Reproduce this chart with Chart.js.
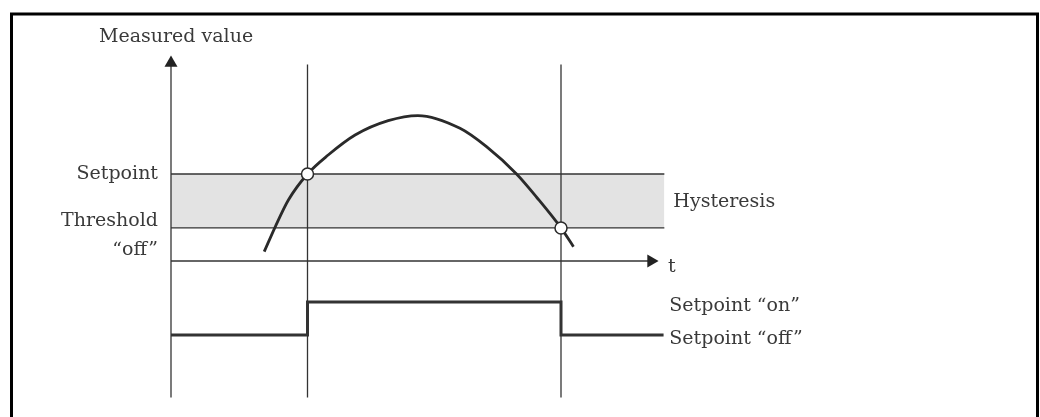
<!DOCTYPE html>
<html>
<head>
<meta charset="utf-8">
<script src="https://cdn.jsdelivr.net/npm/chart.js@4.4.1/dist/chart.umd.min.js"></script>
<style>
  body { margin: 0; background: #fff; }
  #wrap { position: relative; width: 1040px; height: 417px; }
</style>
</head>
<body>
<div id="wrap"><canvas id="myChart"></canvas></div>
<script>
// switching points on the time axis
const tOn = 3.5;
const tOff = 10;
const tEnd = 12.65;

// measured value levels
const setpoint = 10;
const threshold = 3.8;

const curveT = [2.39, 2.67, 3.01, 3.5, 4.03, 4.72, 5.57, 6.33, 7.41, 8.09, 8.86, 9.38, 10.0, 10.32];
const curveV = [1.07, 3.9, 7.01, 10.0, 12.18, 14.48, 16.13, 16.72, 15.25, 13.14, 10.0, 7.3, 3.8, 1.64];

// relay output levels (drawn below the time axis)
const outOff = -8.5;
const outOn = -4.7;

// axis extents
const yTop = 22.76;
const gridTop = 22.6;
const gridBottom = -15.7;
const tArrow = 12.31;

const ink = "#333";
const font = "19px 'DejaVu Serif'";

const pts = (xs, ys) => xs.map((x, i) => ({ x: x, y: ys[i] }));
const hline = (v, x0, x1) => [{ x: x0, y: v }, { x: x1, y: v }];
const vline = (t, y0, y1) => [{ x: t, y: y0 }, { x: t, y: y1 }];

const thin = { borderColor: ink, borderWidth: 1.3, pointRadius: 0, fill: false, order: 5 };

// frame and text
const labels = {
  id: "labels",
  beforeDraw(chart) {
    const c = chart.ctx;
    c.save();
    c.strokeStyle = "#000";
    c.lineWidth = 3;
    c.strokeRect(11.5, 14, 1026, 420);
    c.restore();
  },
  afterDatasetsDraw(chart) {
    const c = chart.ctx;
    const x = chart.scales.x, y = chart.scales.y;
    const left = x.getPixelForValue(0) - 13;
    const right = x.getPixelForValue(tEnd) + 9;
    c.save();
    c.font = font;
    c.fillStyle = "#3a3a3a";
    c.textBaseline = "alphabetic";
    c.textAlign = "left";
    c.fillText("Measured value", 99, 42);
    c.textAlign = "right";
    c.fillText("Setpoint", left, y.getPixelForValue(setpoint) + 5);
    c.fillText("Threshold", left, y.getPixelForValue(threshold) - 2);
    c.fillText("\u201coff\u201d", left, y.getPixelForValue(threshold) + 27);
    c.textAlign = "left";
    const mid = (y.getPixelForValue(setpoint) + y.getPixelForValue(threshold)) / 2;
    c.fillText("Hysteresis", right, mid + 6);
    c.fillText("t", x.getPixelForValue(tArrow) + 17, y.getPixelForValue(0) + 11);
    c.fillText("Setpoint \u201con\u201d", right - 4, y.getPixelForValue(outOn) + 9);
    c.fillText("Setpoint \u201coff\u201d", right - 4, y.getPixelForValue(outOff) + 9);
    c.restore();
  },
};

new Chart(document.querySelector("#myChart").getContext("2d"), {
  type: "line",
  data: {
    datasets: [
      { ...thin, data: hline(setpoint, 0, tEnd), fill: "+1", backgroundColor: "#e3e3e3", order: 10 },
      { ...thin, data: hline(threshold, 0, tEnd) },
      { ...thin, data: hline(0, 0, tArrow) },
      { ...thin, data: vline(0, gridBottom, yTop) },
      { ...thin, data: vline(tOn, gridBottom, gridTop) },
      { ...thin, data: vline(tOff, gridBottom, gridTop) },
      {
        data: pts(curveT, curveV),
        borderColor: "#2a2a2a",
        borderWidth: 2.8,
        pointRadius: 0,
        cubicInterpolationMode: "monotone",
        fill: false,
        order: 2,
      },
      {
        data: [{ x: 0, y: outOff }, { x: tOn, y: outOn }, { x: tOff, y: outOff }, { x: tEnd - 0.02, y: outOff }],
        stepped: true,
        borderColor: ink,
        borderWidth: 3,
        pointRadius: 0,
        fill: false,
        order: 2,
      },
      {
        data: [{ x: tOn, y: setpoint }, { x: tOff, y: threshold }],
        showLine: false,
        pointRadius: 6,
        pointBackgroundColor: "#fff",
        pointBorderColor: "#2a2a2a",
        pointBorderWidth: 1.5,
        order: 0,
      },
      {
        data: [{ x: 0, y: yTop }, { x: tArrow, y: 0 }],
        showLine: false,
        pointStyle: "triangle",
        pointRadius: 7.5,
        pointRotation: [0, 90],
        pointBackgroundColor: "#222",
        pointBorderColor: "#222",
        pointBorderWidth: 0,
        order: 0,
      },
    ],
  },
  options: {
    responsive: true,
    maintainAspectRatio: false,
    animation: false,
    layout: { padding: 0, autoPadding: false },
    plugins: { legend: { display: false }, tooltip: { enabled: false } },
    scales: {
      x: { type: "linear", display: false, min: -171 / 39, max: (1040 - 171) / 39 },
      y: { type: "linear", display: false, min: (261 - 417) / 8.7, max: 261 / 8.7 },
    },
  },
  plugins: [labels],
});
</script>
</body>
</html>
